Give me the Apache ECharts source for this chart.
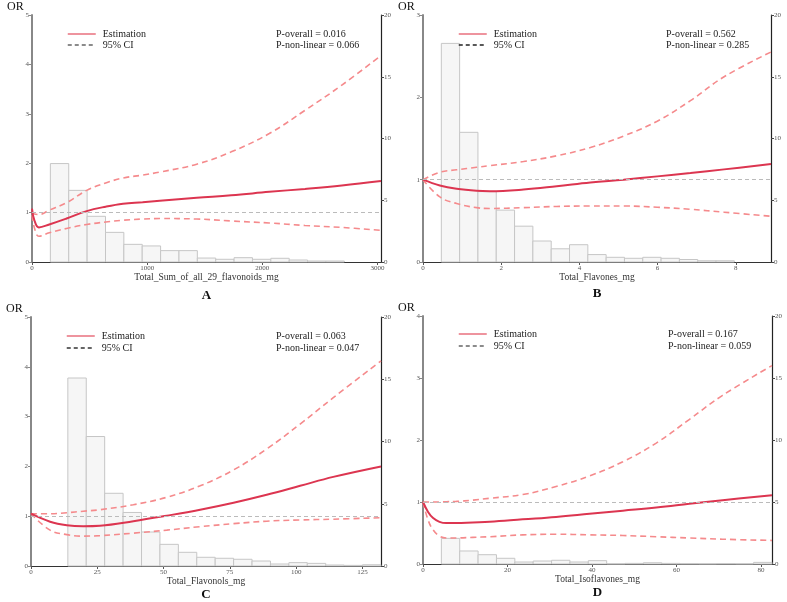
<!DOCTYPE html>
<html>
<head>
<meta charset="utf-8">
<script src="https://cdn.jsdelivr.net/npm/echarts@6/dist/echarts.min.js"></script>
<style>
html, body {margin: 0; padding: 0; background: #fff;}
#main {width: 787px; height: 602px;}
</style>
</head>
<body>
<div id="main"></div>
<script>
// A - total flavonoids
var aX   = [0, 20, 60, 150, 300, 475, 640, 790, 960, 1110, 1430, 1730, 2060, 2370, 2690, 3030];
var aEst = [1.08, 0.85, 0.70, 0.76, 0.88, 1.03, 1.12, 1.18, 1.21, 1.24, 1.30, 1.35, 1.42, 1.48, 1.55, 1.64];
var aUp  = [1.0, 0.97, 0.96, 1.05, 1.20, 1.45, 1.60, 1.70, 1.76, 1.82, 1.98, 2.23, 2.60, 3.07, 3.58, 4.18];
var aLow = [0.95, 0.70, 0.52, 0.59, 0.68, 0.76, 0.81, 0.845, 0.87, 0.88, 0.87, 0.83, 0.79, 0.74, 0.70, 0.64];
var aHist = [0, 7.97, 5.8, 3.7, 2.4, 1.43, 1.3, 0.92, 0.92, 0.32, 0.22, 0.35, 0.22, 0.3, 0.16, 0.08, 0.08, 0, 0];
var aBinW = 159.5;
var aP = ['P-overall = 0.016', 'P-non-linear = 0.066'];

// B - flavones
var bX   = [0, 0.43, 0.86, 1.37, 1.71, 2.57, 3.42, 4.28, 5.13, 5.99, 6.84, 7.7, 8.9];
var bEst = [1.0, 0.93, 0.89, 0.865, 0.86, 0.88, 0.92, 0.965, 1.0, 1.04, 1.08, 1.125, 1.19];
var bUp  = [1.0, 1.09, 1.12, 1.15, 1.17, 1.22, 1.29, 1.39, 1.53, 1.71, 1.96, 2.25, 2.55];
var bLow = [1.0, 0.79, 0.71, 0.66, 0.65, 0.66, 0.675, 0.68, 0.68, 0.665, 0.64, 0.605, 0.555];
var bHist = [0, 17.7, 10.5, 5.7, 4.2, 2.9, 1.7, 1.07, 1.4, 0.6, 0.38, 0.3, 0.38, 0.3, 0.2, 0.1, 0.1, 0, 0];
var bBinW = 0.4684;
var bP = ['P-overall = 0.562', 'P-non-linear = 0.285'];

// C - flavonols
var cX   = [0, 7.2, 13.5, 19.7, 26, 38.6, 51.2, 63.8, 76.4, 88.9, 101.5, 114, 132];
var cEst = [1.05, 0.89, 0.82, 0.80, 0.81, 0.90, 1.01, 1.13, 1.27, 1.43, 1.61, 1.79, 2.0];
var cUp  = [1.05, 1.05, 1.07, 1.10, 1.13, 1.23, 1.38, 1.61, 1.93, 2.35, 2.85, 3.38, 4.12];
var cLow = [1.05, 0.72, 0.63, 0.60, 0.61, 0.66, 0.72, 0.79, 0.85, 0.90, 0.925, 0.94, 0.97];
var cHist = [0, 0, 15.1, 10.4, 5.84, 4.3, 2.73, 1.74, 1.1, 0.7, 0.62, 0.54, 0.4, 0.16, 0.27, 0.21, 0.08, 0.05, 0.1];
var cBinW = 6.947;
var cP = ['P-overall = 0.063', 'P-non-linear = 0.047'];

// D - isoflavones
var dX   = [0, 1.2, 2.4, 3.9, 5.5, 7.9, 11.8, 15.8, 23.6, 31.5, 39.4, 47.3, 55.2, 63, 70.9, 82.6];
var dEst = [1.0, 0.84, 0.74, 0.68, 0.66, 0.66, 0.67, 0.68, 0.72, 0.76, 0.81, 0.86, 0.91, 0.97, 1.03, 1.11];
var dUp  = [1.0, 1.0, 1.0, 1.0, 1.005, 1.01, 1.03, 1.06, 1.12, 1.25, 1.42, 1.65, 1.95, 2.33, 2.72, 3.2];
var dLow = [1.0, 0.71, 0.55, 0.45, 0.42, 0.42, 0.43, 0.44, 0.47, 0.48, 0.47, 0.46, 0.44, 0.42, 0.40, 0.38];
var dHist = [0, 2.07, 1.05, 0.75, 0.46, 0.16, 0.24, 0.3, 0.16, 0.27, 0.02, 0.05, 0.1, 0.05, 0.03, 0.02, 0.03, 0.02, 0.13];
var dBinW = 4.347;
var dP = ['P-overall = 0.167', 'P-non-linear = 0.059'];

var serif = '"Liberation Serif", "Times New Roman", serif';

var panels = [
    {x: aX, est: aEst, up: aUp, low: aLow, hist: aHist, binW: aBinW, p: aP,
     xMax: 3030, xStep: 1000, yMax: 5, xName: 'Total_Sum_of_all_29_flavonoids_mg', letter: 'A', letterGap: 27,
     grid: {left: 32, top: 15, width: 349, height: 247}, legend: [67, 29], pText: [276, 28.5], gap: 1, ci: '#666'},
    {x: bX, est: bEst, up: bUp, low: bLow, hist: bHist, binW: bBinW, p: bP,
     xMax: 8.9, xStep: 2, yMax: 3, xName: 'Total_Flavones_mg', letter: 'B', letterGap: 25,
     grid: {left: 423, top: 15, width: 348, height: 247}, legend: [458, 29], pText: [666, 28.5], gap: 1, ci: '#222'},
    {x: cX, est: cEst, up: cUp, low: cLow, hist: cHist, binW: cBinW, p: cP,
     xMax: 132, xStep: 25, yMax: 5, xName: 'Total_Flavonols_mg', letter: 'C', letterGap: 22,
     grid: {left: 31, top: 317, width: 350, height: 249}, legend: [66, 331], pText: [276, 330], gap: 2, ci: '#333'},
    {x: dX, est: dEst, up: dUp, low: dLow, hist: dHist, binW: dBinW, p: dP,
     xMax: 82.6, xStep: 20, yMax: 4, xName: 'Total_Isoflavones_mg', letter: 'D', letterGap: 22,
     grid: {left: 423, top: 316, width: 349, height: 248}, legend: [458, 329], pText: [668, 328], gap: 2, ci: '#666'}
];

function pairs(xs, ys) {
    var out = [];
    for (var i = 0; i < xs.length; i++) out.push([xs[i], ys[i]]);
    return out;
}

function histBars(hist, w) {
    var out = [];
    for (var i = 0; i < hist.length; i++) {
        if (hist[i] > 0) out.push([i * w, (i + 1) * w, hist[i]]);
    }
    return out;
}

function drawBar(params, api) {
    var p0 = api.coord([api.value(0), 0]);
    var p1 = api.coord([api.value(1), api.value(2)]);
    return {
        type: 'rect',
        shape: {x: p0[0], y: p1[1], width: p1[0] - p0[0], height: p0[1] - p1[1]},
        style: {fill: '#f6f6f6', stroke: '#c6c6c6', lineWidth: 1}
    };
}

var option = {
    animation: false,
    backgroundColor: '#fff',
    grid: [], xAxis: [], yAxis: [], series: [], legend: [], title: []
};

panels.forEach(function (pn, i) {
    var g = pn.grid;
    option.grid.push({left: g.left, top: g.top, width: g.width, height: g.height, containLabel: false});

    option.xAxis.push({
        type: 'value', gridIndex: i, min: 0, max: pn.xMax, interval: pn.xStep,
        name: pn.xName, nameLocation: 'middle', nameGap: 10,
        nameTextStyle: {fontSize: 9.5, color: '#333', fontFamily: serif},
        axisLine: {lineStyle: {color: '#333', width: 1}},
        axisTick: {length: 3, lineStyle: {color: '#555'}},
        axisLabel: {margin: 3, showMaxLabel: false, fontSize: 7, color: '#555', fontFamily: serif,
                    formatter: function (v) { return String(v); }},
        splitLine: {show: false}
    });
    // left OR axis
    option.yAxis.push({
        type: 'value', gridIndex: i, min: 0, max: pn.yMax, interval: 1, position: 'left',
        axisLine: {show: true, lineStyle: {color: '#888', width: 2}},
        axisTick: {show: true, length: 3, lineStyle: {color: '#888'}},
        axisLabel: {margin: 3, fontSize: 7, color: '#555', fontFamily: serif},
        splitLine: {show: false}
    });
    // right axis for histogram
    option.yAxis.push({
        type: 'value', gridIndex: i, min: 0, max: 20, interval: 5, position: 'right',
        axisLine: {show: true, lineStyle: {color: '#222', width: 1.2}},
        axisTick: {show: true, length: 3, lineStyle: {color: '#444'}},
        axisLabel: {margin: 3, fontSize: 7, color: '#555', fontFamily: serif},
        splitLine: {show: false}
    });

    option.series.push({
        type: 'custom', name: 'hist' + i, xAxisIndex: i, yAxisIndex: i * 2 + 1,
        renderItem: drawBar, data: histBars(pn.hist, pn.binW), z: 1, silent: true
    });
    option.series.push({
        type: 'line', name: '95% CI', xAxisIndex: i, yAxisIndex: i * 2,
        data: pairs(pn.x, pn.up), smooth: 0.4, symbol: 'none', z: 3,
        lineStyle: {color: '#f58a8c', width: 1.6, type: [6, 4]}
    });
    option.series.push({
        type: 'line', name: '95% CI', xAxisIndex: i, yAxisIndex: i * 2,
        data: pairs(pn.x, pn.low), smooth: 0.4, symbol: 'none', z: 3,
        lineStyle: {color: '#f58a8c', width: 1.6, type: [6, 4]}
    });
    option.series.push({
        type: 'line', name: 'Estimation', xAxisIndex: i, yAxisIndex: i * 2,
        data: pairs(pn.x, pn.est), smooth: 0.4, symbol: 'none', z: 4,
        lineStyle: {color: '#dc3550', width: 2},
        markLine: {
            silent: true, symbol: 'none', label: {show: false},
            lineStyle: {color: '#bbb', type: [4, 3], width: 1},
            data: [{yAxis: 1}]
        }
    });

    option.legend.push({
        left: pn.legend[0], top: pn.legend[1], orient: 'vertical', padding: 0,
        itemWidth: 28, itemHeight: 10, itemGap: pn.gap, selectedMode: false,
        textStyle: {fontSize: 10, color: '#222', fontFamily: serif, padding: [0, 0, 0, 2]},
        data: [
            {name: 'Estimation', itemStyle: {opacity: 0},
             lineStyle: {color: '#e8707e', width: 1.5, type: 'solid'}},
            {name: '95% CI', itemStyle: {opacity: 0},
             lineStyle: {color: pn.ci, width: 1.3, type: [4, 3]}}
        ]
    });

    option.title.push({
        text: pn.p.join('\n'), left: pn.pText[0], top: pn.pText[1], padding: 0,
        textStyle: {fontSize: 10, lineHeight: pn.gap === 1 ? 11 : 12, fontWeight: 'normal', color: '#222', fontFamily: serif}
    });
    option.title.push({
        text: 'OR', left: g.left - 25, top: g.top - 14, padding: 0,
        textStyle: {fontSize: 12, fontWeight: 'normal', color: '#111', fontFamily: serif}
    });
    option.title.push({
        text: pn.letter, left: g.left + g.width / 2, top: g.top + g.height + pn.letterGap, textAlign: 'center', padding: 0,
        textStyle: {fontSize: 13, fontWeight: 'bold', color: '#111', fontFamily: serif}
    });
});

var myChart = echarts.init(document.getElementById('main'));
myChart.setOption(option);
</script>
</body>
</html>
